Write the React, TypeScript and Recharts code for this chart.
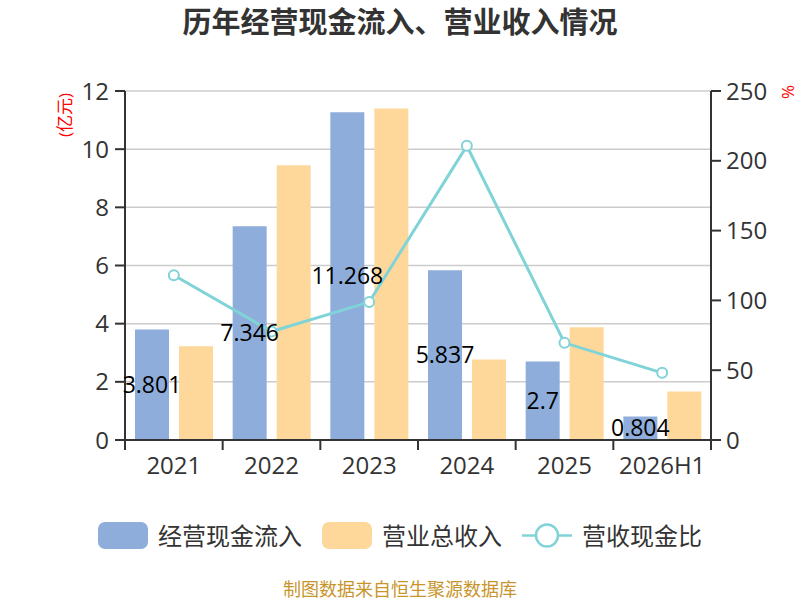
import React from "react";
import { Bar, ComposedChart, CartesianGrid, LabelList, Line, XAxis, YAxis } from "recharts";

const years = ["2021", "2022", "2023", "2024", "2025", "2026H1"];
const cashInflow = [3.801, 7.346, 11.268, 5.837, 2.7, 0.804];
const revenue = [3.22, 9.45, 11.4, 2.77, 3.88, 1.67];
const cashRatio = [118.0, 77.7, 98.8, 210.7, 69.6, 48.1];
const leftTicks = [0, 2, 4, 6, 8, 10, 12];
const rightTicks = [0, 50, 100, 150, 200, 250];

const data = years.map((year, i) => ({
  year,
  cash: cashInflow[i],
  revenue: revenue[i],
  ratio: cashRatio[i],
}));

const BLUE = "#8eaddb";
const ORANGE = "#fed89a";
const TEAL = "#80d3d6";
const AXIS = "#333";
const FONT = "'Open Sans', 'Noto Sans CJK SC', sans-serif";

const PLOT_W = 800 - 125 - 89;
const BAND = PLOT_W / years.length;

function YearTick(props: any) {
  const { x, y, payload, index } = props;
  const isLast = index === years.length - 1;
  return (
    <g>
      <line x1={x - BAND / 2} y1={y} x2={x - BAND / 2} y2={y + 10} stroke={AXIS} strokeWidth={2} />
      {isLast && <line x1={x + BAND / 2} y1={y} x2={x + BAND / 2} y2={y + 10} stroke={AXIS} strokeWidth={2} />}
      <text x={x} y={y + 34} textAnchor="middle" fontSize={24} fill={AXIS} fontFamily={FONT}>
        {payload.value}
      </text>
    </g>
  );
}

function LegendItem({ kind, color, label }: { kind: "bar" | "line"; color: string; label: string }) {
  return (
    <div style={{ display: "flex", alignItems: "center", gap: 10 }}>
      {kind === "bar" ? (
        <div style={{ width: 50, height: 27, borderRadius: 7, background: color }} />
      ) : (
        <svg width={50} height={27}>
          <line x1={0} y1={13.5} x2={50} y2={13.5} stroke={color} strokeWidth={2.5} />
          <circle cx={25} cy={13.5} r={11} fill="#fff" stroke={color} strokeWidth={2.5} />
        </svg>
      )}
      <span style={{ fontSize: 24, color: AXIS, lineHeight: "27px" }}>{label}</span>
    </div>
  );
}

export default function App() {
  return (
    <div style={{ position: "absolute", left: 0, top: 0, width: 800, height: 600, background: "#fff", fontFamily: FONT }}>
      <div style={{ position: "absolute", top: 2, width: 800, textAlign: "center", fontSize: 29, fontWeight: 700, color: AXIS, lineHeight: "40px" }}>
        历年经营现金流入、营业收入情况
      </div>
      <ComposedChart
        width={800}
        height={600}
        data={data}
        margin={{ top: 91, right: 0, bottom: 130, left: 0 }}
        barGap={10}
        barSize={34}
      >
        <CartesianGrid vertical={false} stroke="#cccccc" strokeWidth={1.5} yAxisId="left" />
        <XAxis
          dataKey="year"
          height={30}
          tickLine={false}
          tickSize={0}
          tickMargin={0}
          axisLine={{ stroke: AXIS, strokeWidth: 2 }}
          tick={<YearTick />}
          interval={0}
        />
        <YAxis
          yAxisId="left"
          width={125}
          domain={[0, 12]}
          ticks={leftTicks}
          tickSize={10}
          tickMargin={6}
          axisLine={{ stroke: AXIS, strokeWidth: 2 }}
          tickLine={{ stroke: AXIS, strokeWidth: 2 }}
          tick={{ fontSize: 24, fill: AXIS, fontFamily: FONT }}
        />
        <YAxis
          yAxisId="right"
          orientation="right"
          width={89}
          domain={[0, 250]}
          ticks={rightTicks}
          tickSize={10}
          tickMargin={5}
          axisLine={{ stroke: AXIS, strokeWidth: 2 }}
          tickLine={{ stroke: AXIS, strokeWidth: 2 }}
          tick={{ fontSize: 24, fill: AXIS, fontFamily: FONT }}
        />
        <Bar yAxisId="left" dataKey="cash" fill={BLUE} isAnimationActive={false}>
          <LabelList dataKey="cash" position="center" fontSize={23} fill="#000" fontFamily={FONT} />
        </Bar>
        <Bar yAxisId="left" dataKey="revenue" fill={ORANGE} isAnimationActive={false} />
        <Line
          yAxisId="right"
          dataKey="ratio"
          stroke={TEAL}
          strokeWidth={3}
          dot={{ r: 5, fill: "#fff", stroke: TEAL, strokeWidth: 2 }}
          isAnimationActive={false}
        />
      </ComposedChart>
      <div style={{ position: "absolute", left: 63, top: 115, transform: "translate(-50%, -50%) rotate(-90deg)", color: "#f00", fontSize: 17, whiteSpace: "nowrap" }}>
        (亿元)
      </div>
      <div style={{ position: "absolute", left: 787, top: 92, transform: "translate(-50%, -50%) rotate(-90deg)", color: "#f00", fontSize: 17 }}>
        %
      </div>
      <div style={{ position: "absolute", top: 522, left: 0, width: 800, display: "flex", justifyContent: "center", gap: 20 }}>
        <LegendItem kind="bar" color={BLUE} label="经营现金流入" />
        <LegendItem kind="bar" color={ORANGE} label="营业总收入" />
        <LegendItem kind="line" color={TEAL} label="营收现金比" />
      </div>
      <div style={{ position: "absolute", top: 578, width: 800, textAlign: "center", fontSize: 18, lineHeight: "22px", color: "#c8952c" }}>
        制图数据来自恒生聚源数据库
      </div>
    </div>
  );
}
